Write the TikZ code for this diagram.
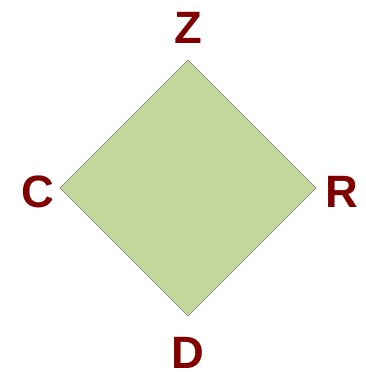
\documentclass[tikz,border=0pt]{standalone}
\usepackage{fontspec}
\setmainfont{Liberation Sans}
\usepackage{tikz}
\definecolor{leafgreen}{HTML}{C4D79B}
\definecolor{maroonred}{HTML}{800000}
\tikzset{
  corner/.style={font=\fontsize{34}{34}\selectfont\bfseries, text=maroonred, inner sep=0pt}
}
\begin{document}
\begin{tikzpicture}[x=0.75pt,y=-0.75pt]
\useasboundingbox (0,0) rectangle (365,372);
\coordinate (top) at (188,60);
\coordinate (left) at (60,188);
\coordinate (right) at (316,188);
\coordinate (bottom) at (188,316);
\draw[fill=leafgreen, draw=gray, line width=0.4pt] (top) -- (right) -- (bottom) -- (left) -- cycle;
\node[corner] (z) at (188,28) {Z};
\node[corner] (c) at (38,192) {C};
\node[corner] (r) at (342,192) {R};
\node[corner] (d) at (188,353) {D};
\end{tikzpicture}
\end{document}
